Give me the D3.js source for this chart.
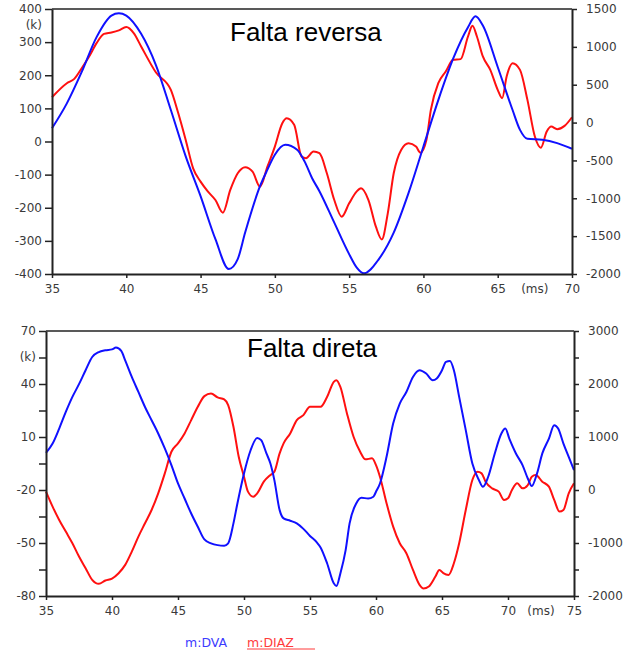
<!DOCTYPE html>
<meta charset="utf-8">
<style>
  body { margin: 0; background: #fff; }
  .tick text { font-family: "DejaVu Sans", sans-serif; font-size: 12px; fill: #3a3a3a; }
  .tick line { stroke: #222; stroke-width: 1.5; }
  .domain { stroke: #222; stroke-width: 2; }
  .title { font-family: "Liberation Sans", Arial, sans-serif; font-size: 26px; fill: #000; }
  .unit { font-family: "DejaVu Sans", sans-serif; font-size: 12px; fill: #3a3a3a; }
  .trace { fill: none; stroke-width: 2; stroke-linejoin: round; }
</style>
<body>
<script src="https://cdnjs.cloudflare.com/ajax/libs/d3/7.8.5/d3.min.js"></script>
<script>

// ---- Falta reversa (top) ----
const revDvaT = [35, 36, 37, 38, 39, 39.5, 40, 41, 42, 43, 44, 45, 46, 46.9, 47.5, 48, 49, 49.5, 50, 50.7, 51.5, 52, 52.5, 53, 54, 55, 55.5, 56, 57, 58, 59, 60, 61, 62, 63, 63.5, 64, 65, 66, 66.5, 67, 68, 69, 70];
const revDva  = [40, 115, 210, 315, 380, 387, 380, 325, 230, 95, -45, -165, -295, -385, -355, -275, -135, -85, -40, -10, -25, -60, -110, -150, -245, -340, -380, -398, -355, -275, -155, -15, 125, 250, 345, 378, 350, 225, 95, 35, 8, 5, -5, -22];

const revDiazT = [35, 36, 36.5, 37, 37.5, 38, 38.5, 39, 39.5, 40, 40.5, 41, 42, 43, 43.5, 44, 44.5, 45, 45.5, 46, 46.5, 47, 47.5, 48, 48.5, 49, 49.5, 50, 50.5, 50.8, 51.3, 51.8, 52.1, 52.6, 53, 53.5, 54, 54.5, 55, 55.5, 55.8, 56.3, 56.8, 57.2, 57.6, 58, 58.5, 59, 59.5, 59.8, 60.2, 60.5, 61, 61.5, 62, 62.5, 63, 63.3, 63.6, 64, 64.5, 65, 65.3, 65.6, 66, 66.5, 67, 67.5, 67.9, 68.3, 68.6, 69, 69.5, 70];
const revDiaz  = [335, 520, 577, 718, 873, 1049, 1172, 1190, 1217, 1261, 1181, 1005, 661, 432, 123, -229, -604, -780, -912, -1023, -1190, -890, -670, -590, -648, -846, -582, -317, -9, 57, -30, -450, -470, -383, -405, -670, -1023, -1243, -1067, -912, -868, -1023, -1375, -1543, -1199, -670, -361, -273, -317, -397, -229, 168, 520, 674, 829, 838, 1137, 1278, 1137, 873, 696, 432, 322, 608, 785, 696, 300, -185, -331, -119, -53, -88, -44, 70];

// ---- Falta direta (bottom) ----
const dirDvaT = [35, 35.5, 36, 36.5, 37, 37.5, 38, 38.5, 39, 39.5, 40, 40.3, 40.7, 41, 41.5, 42, 42.5, 43, 43.5, 44, 44.5, 45, 45.5, 46, 46.5, 47, 47.5, 48, 48.5, 48.8, 49.2, 49.5, 50, 50.5, 51, 51.3, 51.7, 52, 52.3, 52.7, 53, 53.5, 54, 54.5, 55, 55.5, 55.8, 56.3, 56.8, 57, 57.3, 57.7, 58, 58.5, 58.9, 59.4, 59.8, 60, 60.3, 60.8, 61.3, 61.8, 62.3, 62.8, 63.3, 63.8, 64.3, 64.6, 65, 65.3, 65.6, 65.9, 66.3, 66.8, 67.3, 67.8, 68.1, 68.5, 69, 69.5, 69.8, 70.1, 70.6, 71.1, 71.5, 71.8, 72.2, 72.6, 73.1, 73.5, 73.8, 74.2, 74.6, 75];
const dirDva  = [1, 6.3, 14.8, 24.2, 32.7, 39.9, 47.8, 55.3, 58.1, 59.1, 59.6, 60.6, 58.7, 53.4, 44, 35.5, 27, 19.5, 12, 3.5, -5.9, -16.3, -24.8, -33.3, -40.8, -48, -50.2, -51.2, -51.5, -50.2, -38.9, -27.6, -10.6, 2.5, 9.5, 8.2, 0.7, -5, -14.4, -31.4, -36.1, -37.4, -38.9, -42, -46, -49.5, -52.5, -61.6, -72.8, -74.3, -67.2, -54, -38.9, -27.6, -24.4, -24.8, -23.8, -21, -16.3, -1.2, 17.6, 28.9, 35.5, 44, 47.8, 45.9, 42.1, 43.1, 47.8, 52.5, 53, 47.8, 32.7, 13.9, -5, -14.4, -18.2, -12.5, 0.7, 12, 14.8, 9.1, 0.7, -5.9, -13.5, -17.8, -10.6, 0.7, 9.1, 16.7, 14.8, 6.3, -1.2, -8.8];

const dirDiazT = [35, 35.5, 36, 36.5, 37, 37.5, 38, 38.5, 39, 39.5, 40, 40.5, 41, 41.5, 42, 42.5, 43, 43.5, 44, 44.5, 45, 45.5, 46, 46.5, 47, 47.5, 48, 48.5, 48.8, 49.2, 49.6, 50, 50.3, 50.7, 51, 51.5, 52, 52.3, 52.7, 53, 53.5, 54, 54.5, 55, 55.8, 56.3, 56.8, 57, 57.3, 57.8, 58.3, 58.8, 59.2, 59.7, 60, 60.3, 60.8, 61.3, 61.8, 62.3, 62.8, 63.3, 63.6, 64, 64.5, 64.8, 65.1, 65.5, 65.9, 66.3, 66.8, 67.3, 67.7, 68, 68.3, 68.8, 69.3, 69.7, 70, 70.3, 70.7, 71.1, 71.5, 71.8, 72.1, 72.6, 73.1, 73.5, 73.9, 74.2, 74.6, 75];
const dirDiaz  = [-31, -314, -565, -785, -1005, -1256, -1476, -1696, -1771, -1708, -1671, -1570, -1413, -1162, -879, -628, -377, -63, 314, 722, 879, 1068, 1319, 1570, 1771, 1821, 1746, 1708, 1602, 1193, 628, 251, -31, -126, -63, 157, 283, 345, 691, 879, 1068, 1319, 1413, 1570, 1570, 1759, 2041, 2073, 1947, 1445, 1005, 722, 578, 597, 471, 251, -251, -691, -1005, -1193, -1508, -1790, -1859, -1821, -1633, -1508, -1570, -1602, -1382, -1005, -377, 188, 345, 314, 157, 31, -31, -188, -157, 0, 126, 31, 94, 251, 283, 157, 63, -188, -408, -377, -63, 126];

// tick values
const revX = [35, 40, 45, 50, 55, 60, 65, 70];
const revLeft = [400, 300, 200, 100, 0, -100, -200, -300, -400];
const revRight = [1500, 1000, 500, 0, -500, -1000, -1500, -2000];
const dirX = [35, 40, 45, 50, 55, 60, 65, 70, 75];
const dirLeft = [70, 55, 40, 25, 10, -5, -20, -35, -50, -65, -80];
const dirLeftLabels = [70, 40, 10, -20, -50, -80];
const dirRight = [3000, 2500, 2000, 1500, 1000, 500, 0, -500, -1000, -1500, -2000];
const dirRightLabels = [3000, 2000, 1000, 0, -1000, -2000];

const W = 639, H = 657;
const svg = d3.select("body").append("svg").attr("width", W).attr("height", H);

function panel(cfg) {
  const x = d3.scaleLinear().domain(cfg.xDomain).range([cfg.left, cfg.right]);
  const yL = d3.scaleLinear().domain(cfg.yLDomain).range([cfg.bottom, cfg.top]);
  const yR = d3.scaleLinear().domain(cfg.yRDomain).range([cfg.bottom, cfg.top]);
  const g = svg.append("g");

  // top border
  g.append("line")
    .attr("x1", cfg.left).attr("x2", cfg.right)
    .attr("y1", cfg.top).attr("y2", cfg.top)
    .attr("stroke", "#222").attr("stroke-width", 1.5);

  const line = (sy) => d3.line().x(d => x(d[0])).y(d => sy(d[1])).curve(d3.curveMonotoneX);

  g.append("path").attr("class", "trace").attr("stroke", "#ff1010")
    .attr("d", line(yR)(cfg.diazT.map((t, i) => [t, cfg.diaz[i]])));
  g.append("path").attr("class", "trace").attr("stroke", "#1010ff")
    .attr("d", line(yL)(cfg.dvaT.map((t, i) => [t, cfg.dva[i]])));

  g.append("g").attr("transform", `translate(0,${cfg.bottom})`)
    .call(d3.axisBottom(x).tickValues(cfg.xTicks).tickSize(4).tickSizeOuter(0).tickPadding(6));
  g.append("g").attr("transform", `translate(${cfg.left},0)`)
    .call(d3.axisLeft(yL).tickValues(cfg.leftTicks).tickSize(7).tickSizeOuter(0).tickPadding(3)
      .tickFormat(d => cfg.leftLabels.includes(d) ? d : ""));
  g.append("g").attr("transform", `translate(${cfg.right},0)`)
    .call(d3.axisRight(yR).tickValues(cfg.rightTicks).tickSize(5).tickSizeOuter(0).tickPadding(9)
      .tickFormat(d => cfg.rightLabels.includes(d) ? d : ""));

  g.append("text").attr("class", "unit").attr("text-anchor", "end")
    .attr("x", cfg.left - 10).attr("y", yL(cfg.kAt)).attr("dy", "0.32em").text("(k)");
  g.append("text").attr("class", "unit").attr("text-anchor", "middle")
    .attr("x", x(cfg.msAt)).attr("y", cfg.bottom + 10).attr("dy", "0.71em").text("(ms)");
  g.append("text").attr("class", "title")
    .attr("x", cfg.titleX).attr("y", cfg.titleY).text(cfg.title);
}

panel({
  xDomain: [35, 70], yLDomain: [-400, 400], yRDomain: [-2000, 1500],
  left: 52, right: 572, top: 9, bottom: 274,
  dvaT: revDvaT, dva: revDva, diazT: revDiazT, diaz: revDiaz,
  xTicks: revX, leftTicks: revLeft, leftLabels: revLeft,
  rightTicks: revRight, rightLabels: revRight,
  kAt: 350, msAt: 67.5, title: "Falta reversa", titleX: 230, titleY: 41
});

panel({
  xDomain: [35, 75], yLDomain: [-80, 70], yRDomain: [-2000, 3000],
  left: 46, right: 574, top: 331, bottom: 596,
  dvaT: dirDvaT, dva: dirDva, diazT: dirDiazT, diaz: dirDiaz,
  xTicks: dirX, leftTicks: dirLeft, leftLabels: dirLeftLabels,
  rightTicks: dirRight, rightLabels: dirRightLabels,
  kAt: 55, msAt: 72.5, title: "Falta direta", titleX: 247, titleY: 357
});

// legend
svg.append("text").attr("x", 185).attr("y", 647)
  .style("font-family", "DejaVu Sans, sans-serif").style("font-size", "12.5px")
  .attr("fill", "#3b3bff").text("m:DVA");
svg.append("text").attr("x", 247).attr("y", 647)
  .style("font-family", "DejaVu Sans, sans-serif").style("font-size", "12.5px")
  .attr("fill", "#ff3b3b").text("m:DIAZ");
svg.append("line").attr("x1", 247).attr("x2", 315).attr("y1", 649).attr("y2", 649)
  .attr("stroke", "#ff3b3b").attr("stroke-width", 1);
</script>
</body>
